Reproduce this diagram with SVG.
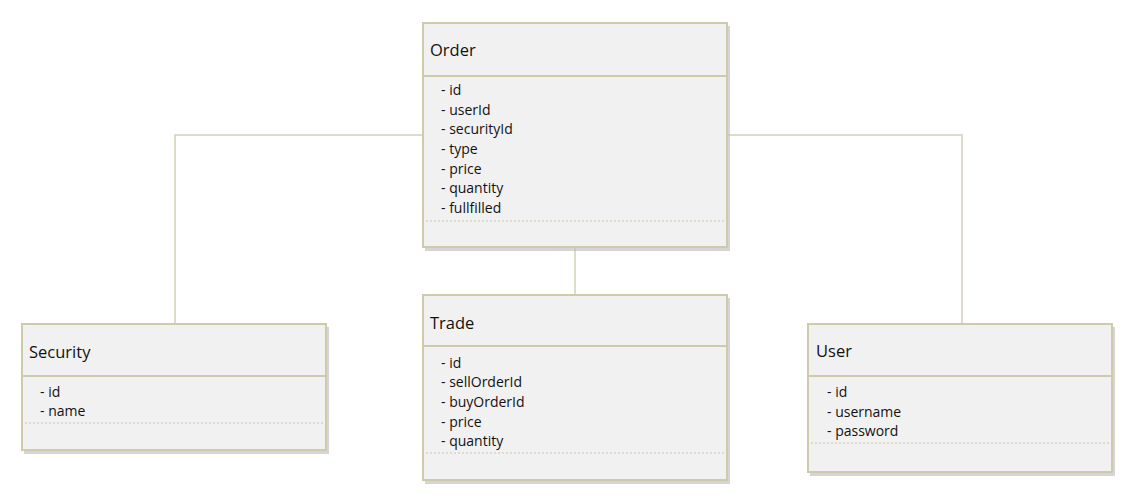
<svg xmlns="http://www.w3.org/2000/svg" width="1138" height="497" viewBox="0 0 1138 497">
<style>
.box{fill:#f1f1f1;stroke:#cfcbaa;stroke-width:2}
.div{stroke:#cfcbaa;stroke-width:2}
.dot{stroke:#c9c6b0;stroke-width:1;stroke-dasharray:2 2}
.shadow{fill:#b9b9b9;opacity:0.6}
.title{font-family:"Open Sans","Noto Sans",sans-serif;font-size:16.5px;fill:#111}
.attr{font-family:"Open Sans","Noto Sans",sans-serif;font-size:14px;fill:#111}
.conn{fill:none;stroke:#d3d0bb;stroke-width:1.5}
</style>
<rect width="1138" height="497" fill="#ffffff"/>
<g id="connectors">
<polyline class="conn" points="423,135 175,135 175,324"/>
<polyline class="conn" points="727,135 962,135 962,324"/>
<line class="conn" x1="575" y1="247" x2="575" y2="295"/>
</g>
<g id="order">
<rect class="shadow" x="425" y="26" width="305" height="225"/>
<rect class="box" x="423" y="23" width="304" height="224"/>
<line class="div" x1="423" y1="76" x2="727" y2="76"/>
<line class="dot" x1="426" y1="221" x2="724" y2="221"/>
<text class="title" x="430" y="56">Order</text>
<text class="attr" x="441" y="95">- id</text>
<text class="attr" x="441" y="115">- userId</text>
<text class="attr" x="441" y="134">- securityId</text>
<text class="attr" x="441" y="154">- type</text>
<text class="attr" x="441" y="174">- price</text>
<text class="attr" x="441" y="193">- quantity</text>
<text class="attr" x="441" y="213">- fullfilled</text>
</g>
<g id="security">
<rect class="shadow" x="24" y="327" width="305" height="127"/>
<rect class="box" x="22" y="324" width="304" height="126"/>
<line class="div" x1="22" y1="376" x2="326" y2="376"/>
<line class="dot" x1="25" y1="423" x2="323" y2="423"/>
<text class="title" x="29" y="358">Security</text>
<text class="attr" x="40" y="397">- id</text>
<text class="attr" x="40" y="416">- name</text>
</g>
<g id="trade">
<rect class="shadow" x="425" y="298" width="305" height="186"/>
<rect class="box" x="423" y="295" width="304" height="185"/>
<line class="div" x1="423" y1="346" x2="727" y2="346"/>
<line class="dot" x1="426" y1="453" x2="724" y2="453"/>
<text class="title" x="430" y="329">Trade</text>
<text class="attr" x="441" y="368">- id</text>
<text class="attr" x="441" y="387">- sellOrderId</text>
<text class="attr" x="441" y="407">- buyOrderId</text>
<text class="attr" x="441" y="427">- price</text>
<text class="attr" x="441" y="446">- quantity</text>
</g>
<g id="user">
<rect class="shadow" x="810" y="327" width="305" height="149"/>
<rect class="box" x="808" y="324" width="304" height="148"/>
<line class="div" x1="808" y1="376" x2="1112" y2="376"/>
<line class="dot" x1="811" y1="443" x2="1109" y2="443"/>
<text class="title" x="816" y="357">User</text>
<text class="attr" x="827" y="397">- id</text>
<text class="attr" x="827" y="417">- username</text>
<text class="attr" x="827" y="436">- password</text>
</g>
</svg>
